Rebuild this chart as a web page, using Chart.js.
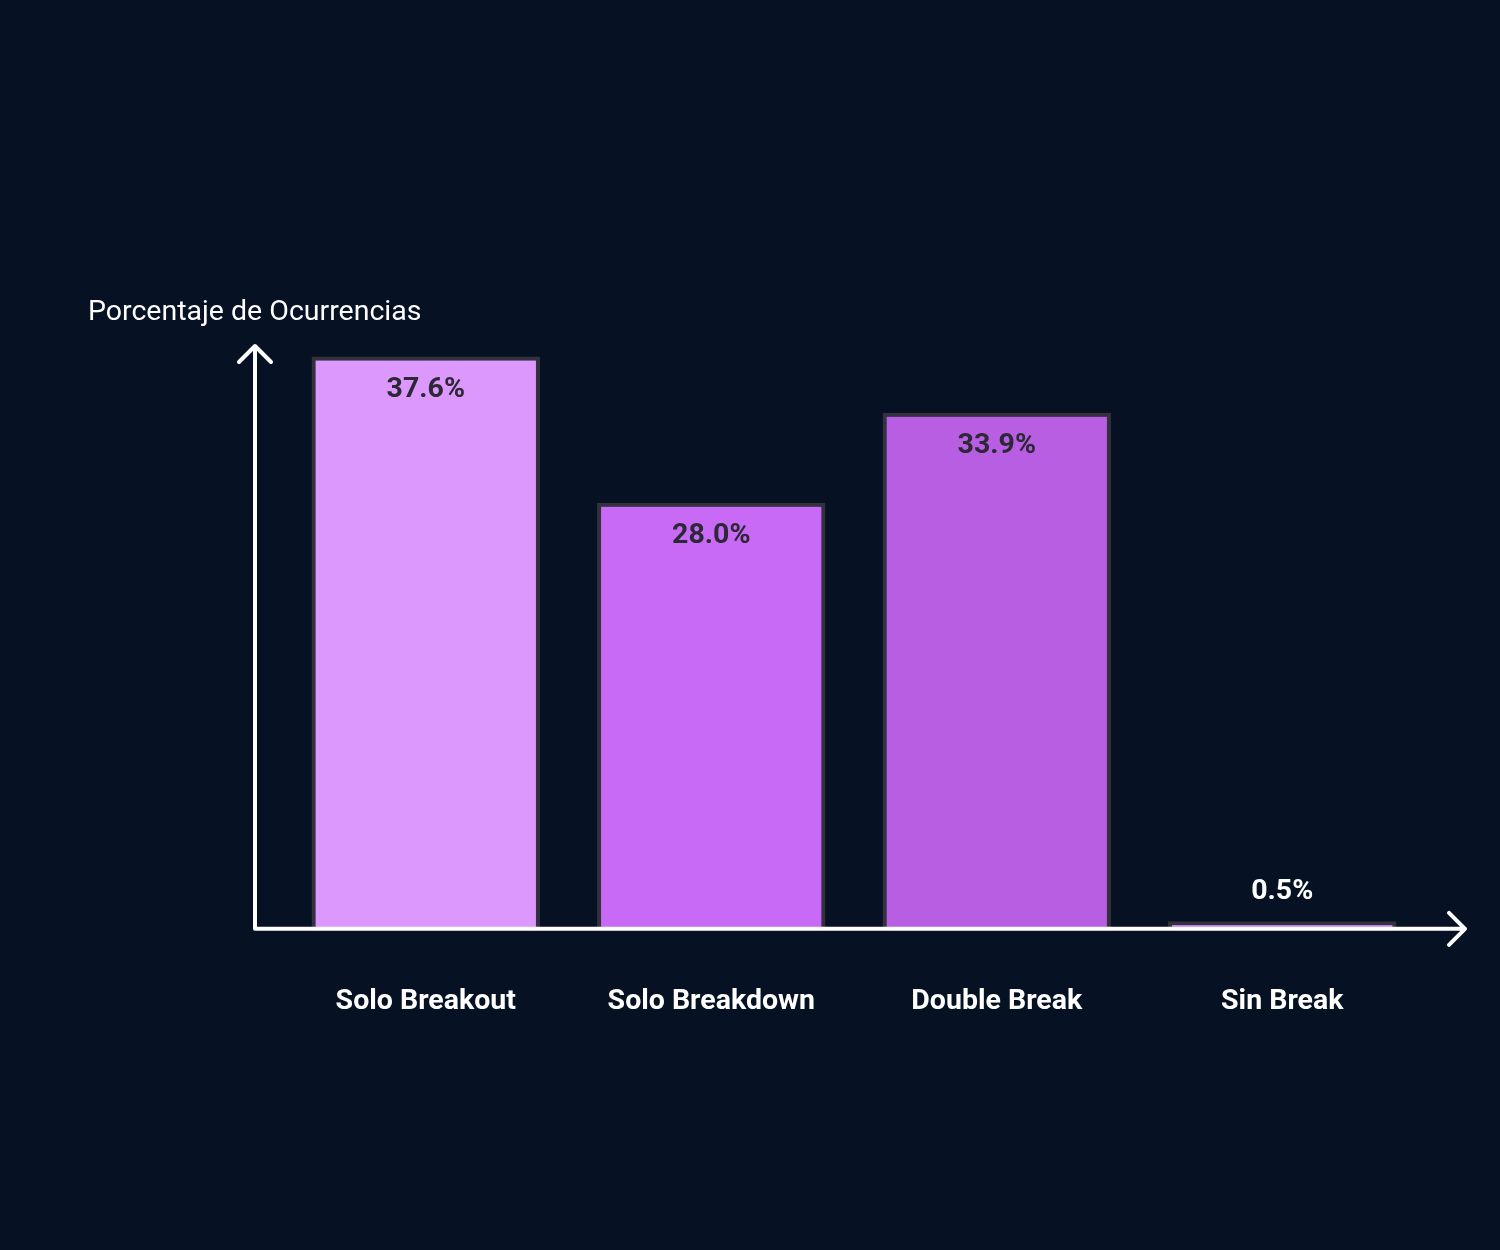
<!DOCTYPE html>
<html>
<head>
<meta charset="utf-8">
<script src="https://cdn.jsdelivr.net/npm/chart.js@4"></script>
<style>
  html, body { margin: 0; padding: 0; background: #061124; }
  #wrap { width: 1500px; height: 1250px; }
</style>
</head>
<body>
<div id="wrap"><canvas id="breakChart"></canvas></div>
<script>
var categories = ['Solo Breakout', 'Solo Breakdown', 'Double Break', 'Sin Break'];
var percentages = [37.6, 28.0, 33.9, 0.5];
var barColors = ['#dc98fd', '#c86af6', '#b85ee2', '#c47ff0'];
var yTitle = 'Porcentaje de Ocurrencias';

// axis arrows, y title and value labels
var decorPlugin = {
  id: 'decor',
  afterDatasetsDraw: function (chart) {
    var ctx = chart.ctx;
    var area = chart.chartArea;
    var ox = area.left - 28;
    var oy = area.bottom;
    var topY = area.top + 26;
    var rightX = area.right + 40;

    ctx.save();
    ctx.strokeStyle = '#ffffff';
    ctx.lineWidth = 4;
    ctx.lineCap = 'round';
    ctx.lineJoin = 'round';
    ctx.beginPath();
    ctx.moveTo(ox, oy);
    ctx.lineTo(ox, topY);
    ctx.moveTo(ox - 16, topY + 16);
    ctx.lineTo(ox, topY);
    ctx.lineTo(ox + 16, topY + 16);
    ctx.moveTo(ox, oy);
    ctx.lineTo(rightX, oy);
    ctx.moveTo(rightX - 16, oy - 16);
    ctx.lineTo(rightX, oy);
    ctx.lineTo(rightX - 16, oy + 16);
    ctx.stroke();

    ctx.fillStyle = '#ffffff';
    ctx.font = '28.5px Roboto';
    ctx.textAlign = 'left';
    ctx.textBaseline = 'middle';
    ctx.fillText(yTitle, 88, area.top - 7);

    var meta = chart.getDatasetMeta(0);
    ctx.font = 'bold 28.5px Roboto';
    ctx.textAlign = 'center';
    meta.data.forEach(function (bar, i) {
      var h = bar.base - bar.y;
      var txt = percentages[i].toFixed(1) + '%';
      if (h > 60) {
        ctx.fillStyle = '#2c2836';
        ctx.fillText(txt, bar.x, bar.y + 33);
      } else {
        ctx.fillStyle = '#ffffff';
        ctx.fillText(txt, bar.x, bar.y - 29);
      }
    });
    ctx.restore();
  }
};

new Chart(document.getElementById('breakChart'), {
  type: 'bar',
  data: {
    labels: categories,
    datasets: [{
      data: percentages,
      backgroundColor: barColors,
      borderColor: '#33323c',
      borderWidth: 4,
      borderSkipped: 'start',
      barPercentage: 0.8,
      categoryPercentage: 1.0
    }]
  },
  options: {
    responsive: true,
    maintainAspectRatio: false,
    animation: false,
    layout: {
      padding: { left: 283, right: 75, top: 320, bottom: 175 }
    },
    plugins: {
      legend: { display: false },
      tooltip: { enabled: false }
    },
    scales: {
      x: {
        grid: { display: false, drawTicks: false },
        border: { display: false },
        ticks: {
          color: '#ffffff',
          font: { family: 'Roboto', size: 28.5, weight: 'bold' },
          padding: 56
        }
      },
      y: {
        display: false,
        min: 0,
        max: 40
      }
    }
  },
  plugins: [decorPlugin]
});
</script>
</body>
</html>
